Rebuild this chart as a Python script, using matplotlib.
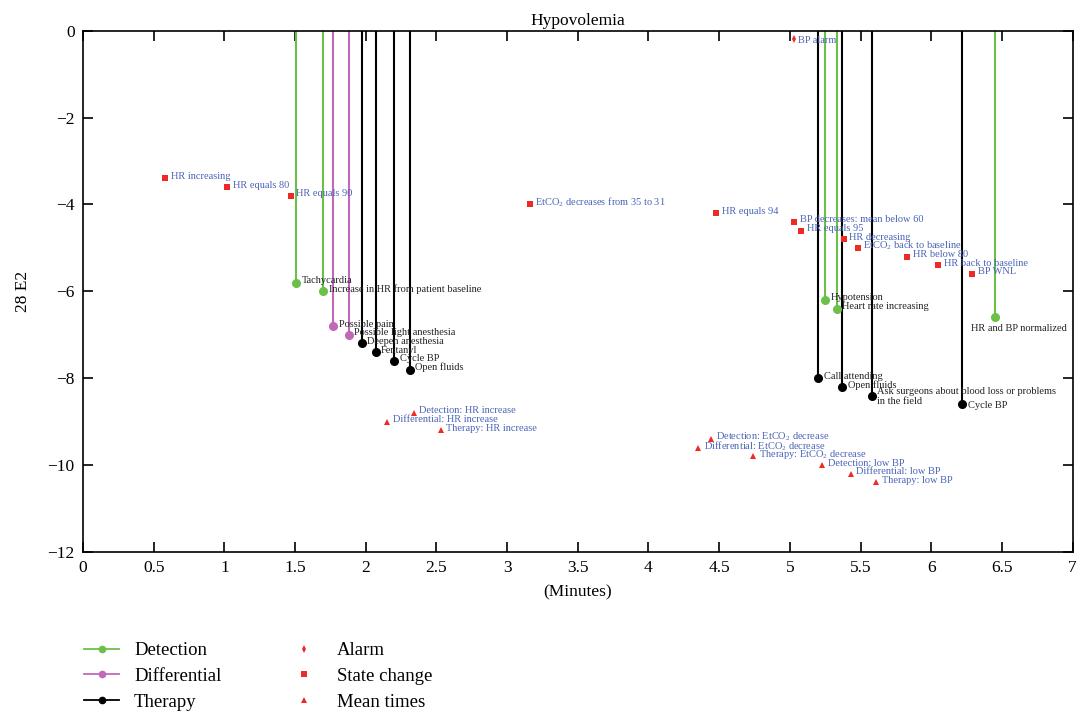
import matplotlib
matplotlib.use("Agg")
import matplotlib.pyplot as plt
from matplotlib.lines import Line2D
from matplotlib.ticker import FormatStrFormatter

plt.rcParams['font.family'] = ['Liberation Serif', 'DejaVu Serif']
plt.rcParams['mathtext.fontset'] = 'custom'
plt.rcParams['mathtext.rm'] = 'Liberation Serif'

CO2 = r"EtCO$_{\mathregular{2}}$"

# Detection (green stems)
det_x = [1.51, 1.70, 5.25, 5.33, 6.45]
det_y = [-5.8, -6.0, -6.2, -6.4, -6.6]
det_labels = ["Tachycardia", "Increase in HR from patient baseline", "Hypotension",
              "Heart rate increasing", "HR and BP normalized"]

# Differential (purple stems)
dif_x = [1.77, 1.88]
dif_y = [-6.8, -7.0]
dif_labels = ["Possible pain", "Possible light anesthesia"]

# Therapy (black stems)
thr_x = [1.97, 2.07, 2.20, 2.31, 5.20, 5.37, 5.58, 6.22]
thr_y = [-7.2, -7.4, -7.6, -7.8, -8.0, -8.2, -8.4, -8.6]
thr_labels = ["Deepen anesthesia", "Fentanyl", "Cycle BP", "Open fluids", "Call attending",
              "Open fluids", "Ask surgeons about blood loss or problems\nin the field", "Cycle BP"]

# Alarm
alm_x = [5.03]
alm_y = [-0.2]
alm_labels = ["BP alarm"]

# State changes
st_x = [0.58, 1.02, 1.47, 3.16, 4.48, 5.03, 5.08, 5.38, 5.48, 5.83, 6.05, 6.29]
st_y = [-3.4, -3.6, -3.8, -4.0, -4.2, -4.4, -4.6, -4.8, -5.0, -5.2, -5.4, -5.6]
st_labels = ["HR increasing", "HR equals 80", "HR equals 90",
             CO2 + " decreases from 35 to 31", "HR equals 94", "BP decreases: mean below 60",
             "HR equals 95", "HR decreasing", CO2 + " back to baseline", "HR below 80",
             "HR back to baseline", "BP WNL"]

# Mean times
mt_x = [2.34, 2.15, 2.53, 4.44, 4.35, 4.74, 5.23, 5.43, 5.61]
mt_y = [-8.8, -9.0, -9.2, -9.4, -9.6, -9.8, -10.0, -10.2, -10.4]
mt_labels = ["Detection: HR increase", "Differential: HR increase", "Therapy: HR increase",
             "Detection: " + CO2 + " decrease", "Differential: " + CO2 + " decrease",
             "Therapy: " + CO2 + " decrease", "Detection: low BP", "Differential: low BP",
             "Therapy: low BP"]

xticks = [0, 0.5, 1, 1.5, 2, 2.5, 3, 3.5, 4, 4.5, 5, 5.5, 6, 6.5, 7]
yticks = [0, -2, -4, -6, -8, -10, -12]

GREEN = "#6cc04a"
PURPLE = "#c168b9"
BLACK = "#000000"
RED = "#ee2a24"
BLUE = "#4a64b6"
TXT = "#222222"

fig = plt.figure(figsize=(10.78, 7.15), dpi=100)
ax = fig.add_axes([0.077, 0.228, 0.918, 0.729])

def stems(xs, ys, color):
    ax.vlines(xs, ys, 0, colors=color, lw=1.5, zorder=2)
    ax.plot(xs, ys, 'o', color=color, ms=5.5, zorder=3, clip_on=False)

stems(det_x, det_y, GREEN)
stems(dif_x, dif_y, PURPLE)
stems(thr_x, thr_y, BLACK)

ax.plot(alm_x, alm_y, 'd', color=RED, ms=4, mew=0, zorder=3)
ax.plot(st_x, st_y, 's', color=RED, ms=4.5, mew=0, zorder=3)
ax.plot(mt_x, mt_y, '^', color=RED, ms=5, mew=0, zorder=3)

FS = 7.5
def labels(xs, ys, labs, color, dx=4, dy=1.5):
    for x, y, t in zip(xs, ys, labs):
        ax.annotate(t, (x, y), xytext=(dx, dy), textcoords='offset points',
                    ha='left', va='center', fontsize=FS, color=color, zorder=4)

labels(det_x[:4], det_y[:4], det_labels[:4], TXT)
ax.annotate(det_labels[4], (det_x[4], det_y[4]), xytext=(17, -5), textcoords='offset points',
            ha='center', va='top', fontsize=FS, color=TXT)
labels(dif_x, dif_y, dif_labels, TXT)
labels(thr_x[:6], thr_y[:6], thr_labels[:6], TXT)
ax.annotate(thr_labels[6], (thr_x[6], thr_y[6]), xytext=(4, 6), textcoords='offset points',
            ha='left', va='top', fontsize=FS, color=TXT, linespacing=1.1)
ax.annotate(thr_labels[7], (thr_x[7], thr_y[7]), xytext=(4, -1), textcoords='offset points',
            ha='left', va='center', fontsize=FS, color=TXT)
labels(alm_x, alm_y, alm_labels, BLUE, dx=3, dy=-1)
labels(st_x, st_y, st_labels, BLUE)
labels(mt_x, mt_y, mt_labels, BLUE)

ax.set_xlim(0, 7)
ax.set_ylim(-12, 0)
ax.set_xticks(xticks)
ax.set_yticks(yticks)
ax.xaxis.set_major_formatter(FormatStrFormatter('%g'))
ax.tick_params(direction='in', top=True, right=True, length=7, width=1.2, labelsize=12.5, pad=6)
for s in ax.spines.values():
    s.set_linewidth(1.2)
ax.set_title("Hypovolemia", fontsize=12.5, pad=4)
ax.set_xlabel("(Minutes)", fontsize=12.5, labelpad=6)
ax.set_ylabel("28 E2", fontsize=12.5, labelpad=12)

handles = [
    Line2D([], [], color=GREEN, marker='o', ms=4.5, lw=1.3),
    Line2D([], [], color=PURPLE, marker='o', ms=4.5, lw=1.3),
    Line2D([], [], color=BLACK, marker='o', ms=4.5, lw=1.3),
    Line2D([], [], color=RED, marker='d', ms=4, mew=0, ls='none'),
    Line2D([], [], color=RED, marker='s', ms=4, mew=0, ls='none'),
    Line2D([], [], color=RED, marker='^', ms=4, mew=0, ls='none'),
]
names = ["Detection", "Differential", "Therapy", "Alarm", "State change", "Mean times"]
fig.legend(handles, names, loc='upper left', bbox_to_anchor=(0.066, 0.12), ncol=2,
           frameon=False, fontsize=13.5, handlelength=1.85, columnspacing=3.5,
           labelspacing=0.45, handletextpad=0.8, borderpad=0.2)

fig.savefig("out.png", dpi=100)
